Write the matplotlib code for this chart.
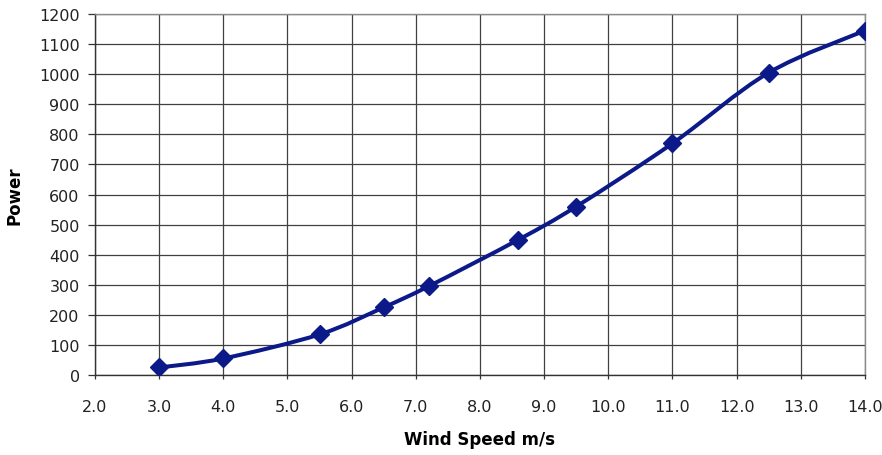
import numpy as np
import matplotlib
matplotlib.use('Agg')
import matplotlib.pyplot as plt
from matplotlib.path import Path
from matplotlib.patches import PathPatch

# values
wind_speed = [3.0, 4.0, 5.5, 6.5, 7.2, 8.6, 9.5, 11.0, 12.5, 14.0]
power = [25, 55, 135, 225, 295, 450, 560, 770, 1005, 1145]
x_ticks = [2.0, 3.0, 4.0, 5.0, 6.0, 7.0, 8.0, 9.0, 10.0, 11.0, 12.0, 13.0, 14.0]
y_ticks = list(range(0, 1201, 100))

navy = '#0b1a88'

plt.rcParams['font.family'] = ['DejaVu Sans']

fig = plt.figure(figsize=(8.82, 4.56), dpi=100)
ax = fig.add_axes([0.1077, 0.1754, 0.8730, 0.7917])


def smooth_path(xs, ys, t=1.0 / 6.0):
    # Excel-style smoothed line: cubic bezier segments through the data points
    pts = np.column_stack([xs, ys]).astype(float)
    n = len(pts)
    verts = [pts[0]]
    codes = [Path.MOVETO]
    for i in range(n - 1):
        p0 = pts[i - 1] if i > 0 else pts[i]
        p1 = pts[i]
        p2 = pts[i + 1]
        p3 = pts[i + 2] if i + 2 < n else pts[i + 1]
        c1 = p1 + (p2 - p0) * t
        c2 = p2 - (p3 - p1) * t
        verts += [c1, c2, p2]
        codes += [Path.CURVE4] * 3
    return Path(verts, codes)


ax.add_patch(PathPatch(smooth_path(wind_speed, power), facecolor='none',
                       edgecolor=navy, lw=2.9, zorder=3, capstyle='round'))
ax.plot(wind_speed, power, linestyle='none', marker='D', markersize=9.5,
        color=navy, zorder=4)

ax.set_xlim(2.0, 14.0)
ax.set_ylim(0, 1200)
ax.set_xticks(x_ticks)
ax.set_xticklabels(['%.1f' % v for v in x_ticks])
ax.set_yticks(y_ticks)

ax.grid(True, color='#404040', lw=0.9)
ax.set_axisbelow(True)

for side in ['top', 'right']:
    ax.spines[side].set_color('#8a8a8a')
    ax.spines[side].set_linewidth(1.0)
for side in ['left', 'bottom']:
    ax.spines[side].set_color('#333333')
    ax.spines[side].set_linewidth(1.0)

ax.tick_params(axis='y', direction='out', length=5, width=0.9, color='#333333',
               pad=6, labelsize=11.5, labelcolor='#222222')
ax.tick_params(axis='x', direction='out', length=3, width=0.9, color='#333333',
               pad=14, labelsize=11.5, labelcolor='#222222')

ax.set_xlabel('Wind Speed m/s', fontsize=12, fontweight='bold', labelpad=12)
ax.set_ylabel('Power', fontsize=12, fontweight='bold', labelpad=11)

fig.savefig('out.png', dpi=100)
